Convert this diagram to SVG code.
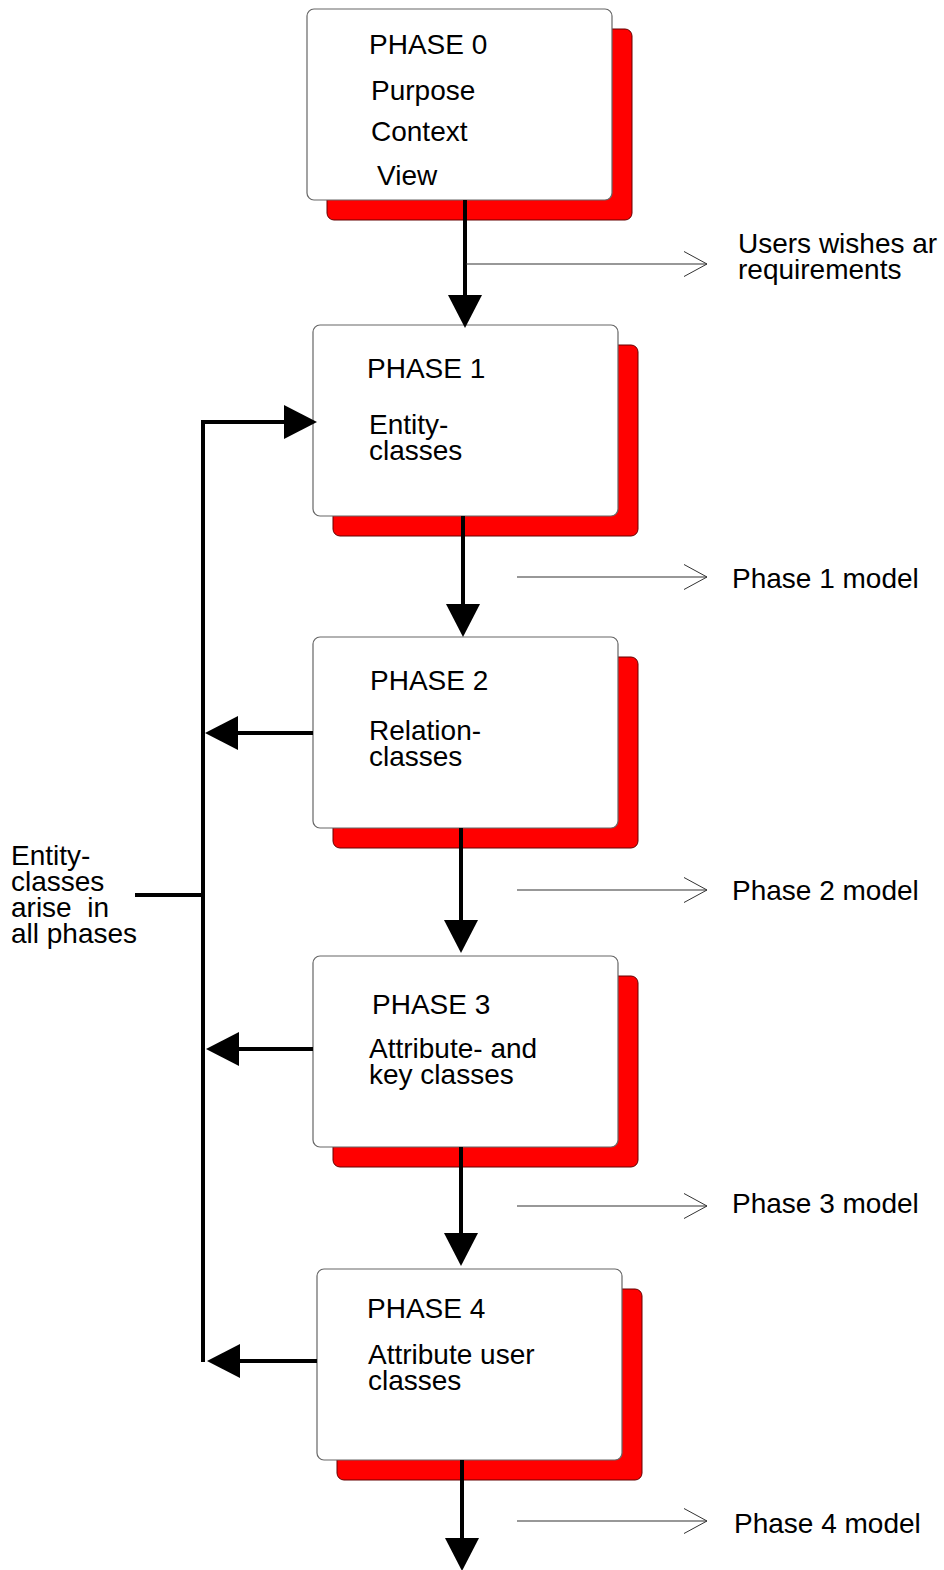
<svg xmlns="http://www.w3.org/2000/svg" width="944" height="1570" viewBox="0 0 944 1570">
  <defs>
    <!-- solid head: placed at the end of a shaft that stops at the head's base -->
    <marker id="solid" viewBox="0 0 33 34" refX="0" refY="17" markerWidth="33" markerHeight="34" markerUnits="userSpaceOnUse" orient="auto">
      <path d="M0,0 L33,17 L0,34 Z" fill="#000"/>
    </marker>
    <!-- open chevron head for the output lines -->
    <marker id="open" viewBox="-1 -1 26 27" refX="23" refY="12.5" markerWidth="26" markerHeight="27" markerUnits="userSpaceOnUse" orient="auto">
      <path d="M0,0 L23,12.5 L0,25" fill="none" stroke="#333" stroke-width="1"/>
    </marker>
  </defs>
  <style>
    text { font-family: "Liberation Sans", Arial, sans-serif; font-size: 28px; fill: #000; }
    .card { fill: #fff; stroke: #666; stroke-width: 1.2; }
    .shadow { fill: #ff0000; stroke: #660000; stroke-width: 1; }
    .flow { fill: none; stroke: #000; stroke-width: 4; marker-end: url(#solid); }
    .bus { fill: none; stroke: #000; stroke-width: 4; }
    .out { fill: none; stroke: #333; stroke-width: 1.2; marker-end: url(#open); }
  </style>

  <rect width="944" height="1570" fill="#fff"/>

  <!-- phase cards: red drop card behind a white card -->
  <g id="phase0">
    <rect class="shadow" x="327" y="29" width="305" height="191" rx="7"/>
    <rect class="card" x="307" y="9" width="305" height="191" rx="7"/>
    <text x="369" y="54">PHASE 0</text>
    <text x="371" y="100">Purpose</text>
    <text x="371" y="141">Context</text>
    <text x="377" y="185">View</text>
  </g>

  <g id="phase1">
    <rect class="shadow" x="333" y="345" width="305" height="191" rx="7"/>
    <rect class="card" x="313" y="325" width="305" height="191" rx="7"/>
    <text x="367" y="378">PHASE 1</text>
    <text x="369" y="434">Entity-</text>
    <text x="369" y="460">classes</text>
  </g>

  <g id="phase2">
    <rect class="shadow" x="333" y="657" width="305" height="191" rx="7"/>
    <rect class="card" x="313" y="637" width="305" height="191" rx="7"/>
    <text x="370" y="690">PHASE 2</text>
    <text x="369" y="740">Relation-</text>
    <text x="369" y="766">classes</text>
  </g>

  <g id="phase3">
    <rect class="shadow" x="333" y="976" width="305" height="191" rx="7"/>
    <rect class="card" x="313" y="956" width="305" height="191" rx="7"/>
    <text x="372" y="1014">PHASE 3</text>
    <text x="369" y="1058">Attribute- and</text>
    <text x="369" y="1084">key classes</text>
  </g>

  <g id="phase4">
    <rect class="shadow" x="337" y="1289" width="305" height="191" rx="7"/>
    <rect class="card" x="317" y="1269" width="305" height="191" rx="7"/>
    <text x="367" y="1318">PHASE 4</text>
    <text x="368" y="1364">Attribute user</text>
    <text x="368" y="1390">classes</text>
  </g>

  <!-- side note feeding the entity-class bus -->
  <g id="note">
    <text x="11" y="865">Entity-</text>
    <text x="11" y="891">classes</text>
    <text x="11" y="917" style="white-space: pre">arise  in</text>
    <text x="11" y="943">all phases</text>
  </g>

  <!-- output labels -->
  <g id="outputs">
    <text x="738" y="253">Users wishes ar</text>
    <text x="738" y="279">requirements</text>
    <text x="732" y="588">Phase 1 model</text>
    <text x="732" y="900">Phase 2 model</text>
    <text x="732" y="1213">Phase 3 model</text>
    <text x="734" y="1533">Phase 4 model</text>
  </g>

  <g id="connectors">
    <!-- main flow down the phases -->
    <path class="flow" d="M465,200 V295"/>
    <path class="flow" d="M463,516 V604"/>
    <path class="flow" d="M461,828 V920"/>
    <path class="flow" d="M461,1147 V1233"/>
    <path class="flow" d="M462,1460 V1538"/>

    <!-- entity-class bus on the left -->
    <path class="bus" d="M203,1362 V422"/>
    <path class="flow" d="M201,422 H284"/>
    <path class="bus" d="M135,895 H203"/>
    <path class="flow" d="M313,733 H238"/>
    <path class="flow" d="M313,1049 H239"/>
    <path class="flow" d="M317,1361 H240"/>

    <!-- thin output arrows -->
    <path class="out" d="M466,264 H707"/>
    <path class="out" d="M517,577 H707"/>
    <path class="out" d="M517,890 H707"/>
    <path class="out" d="M517,1206 H707"/>
    <path class="out" d="M517,1521 H707"/>
  </g>
</svg>
